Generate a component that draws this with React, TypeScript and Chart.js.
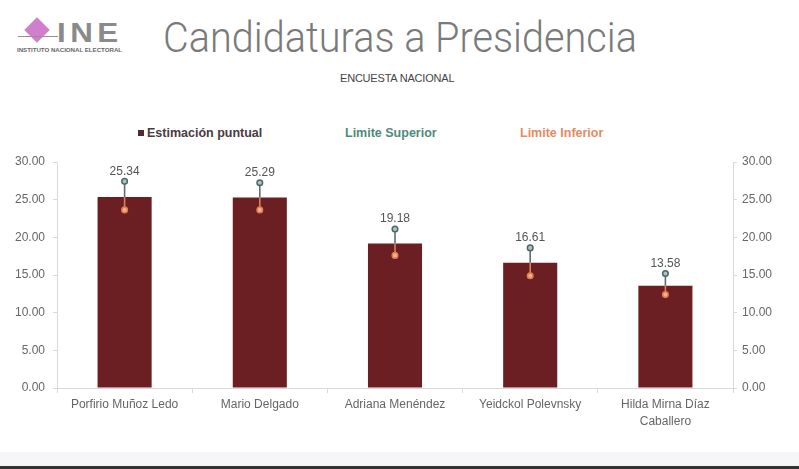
import React, { useEffect, useRef } from "react";
import { Chart, registerables } from "chart.js";

Chart.register(...registerables);

const categories: (string | string[])[] = [
  "Porfirio Muñoz Ledo",
  "Mario Delgado",
  "Adriana Menéndez",
  "Yeidckol Polevnsky",
  ["Hilda Mirna Díaz", "Caballero"],
];
const estimates = [25.34, 25.29, 19.18, 16.61, 13.58];
const upperLimits = [27.43, 27.25, 21.1, 18.6, 15.2];
const lowerLimits = [23.64, 23.64, 17.6, 14.9, 12.4];
const yTicks = [0, 5, 10, 15, 20, 25, 30];
const legendLabels = ["Estimación puntual", "Limite Superior", "Limite Inferior"];

const BAR = "#6b1f22";
const UP = "#4d6666";
const LOW = "#e07a50";

const errorBarPlugin = {
  id: "errorBars",
  afterDatasetDraw(chart: any, args: any) {
    if (args.index !== 0) return;
    const ctx = chart.ctx;
    const y = chart.scales.y;
    const meta = chart.getDatasetMeta(0);
    meta.data.forEach((bar: any, i: number) => {
      const x = bar.x;
      const yv = y.getPixelForValue(estimates[i]);
      const yu = y.getPixelForValue(upperLimits[i]);
      const yl = y.getPixelForValue(lowerLimits[i]);
      ctx.save();
      ctx.lineWidth = 1.6;
      ctx.strokeStyle = "#5e6d6d";
      ctx.beginPath();
      ctx.moveTo(x, yv);
      ctx.lineTo(x, yu);
      ctx.stroke();
      ctx.strokeStyle = "#d8805f";
      ctx.beginPath();
      ctx.moveTo(x, yv);
      ctx.lineTo(x, yl);
      ctx.stroke();
      ctx.restore();
    });
  },
  afterDatasetsDraw(chart: any) {
    const ctx = chart.ctx;
    const y = chart.scales.y;
    const meta = chart.getDatasetMeta(0);
    ctx.save();
    ctx.font = "12px 'Liberation Sans', Arial, sans-serif";
    ctx.fillStyle = "#555555";
    ctx.textAlign = "center";
    ctx.textBaseline = "bottom";
    meta.data.forEach((bar: any, i: number) => {
      const yu = y.getPixelForValue(upperLimits[i]);
      ctx.fillText(estimates[i].toFixed(2), bar.x, yu - 4);
    });
    ctx.restore();
  },
};

export default function App() {
  const ref = useRef<HTMLCanvasElement | null>(null);

  useEffect(() => {
    document.body.style.margin = "0";
    if (!ref.current) return;
    const tickFont = { family: "'Liberation Sans', Arial, sans-serif", size: 12 };
    const chart = new Chart(ref.current, {
      type: "bar",
      data: {
        labels: categories,
        datasets: [
          {
            type: "bar",
            label: legendLabels[0],
            data: estimates,
            backgroundColor: BAR,
            barPercentage: 0.4,
            categoryPercentage: 1,
            order: 2,
            yAxisID: "y",
          },
          {
            type: "line",
            label: legendLabels[1],
            data: upperLimits,
            showLine: false,
            pointRadius: 2.8,
            pointBorderWidth: 1.5,
            pointBorderColor: UP,
            pointBackgroundColor: "#aac4c4",
            order: 0,
            yAxisID: "y",
          },
          {
            type: "line",
            label: legendLabels[2],
            data: lowerLimits,
            showLine: false,
            pointRadius: 2.8,
            pointBorderWidth: 1.5,
            pointBorderColor: LOW,
            pointBackgroundColor: "#f2b08f",
            order: 1,
            yAxisID: "y",
          },
        ],
      },
      options: {
        animation: false,
        responsive: false,
        maintainAspectRatio: false,
        layout: { padding: { top: 20, bottom: 0, left: 0, right: 0 } },
        plugins: {
          legend: { display: false },
          tooltip: { enabled: false },
        },
        scales: {
          x: {
            grid: {
              offset: true,
              drawOnChartArea: false,
              drawTicks: true,
              tickLength: 5,
              color: "#d9d9d9",
            },
            border: { color: "#d9d9d9" },
            ticks: {
              color: "#666666",
              font: { ...tickFont, lineHeight: 1.4 },
              padding: 3,
              maxRotation: 0,
              autoSkip: false,
            },
            afterFit: (s: any) => {
              s.height = 50;
            },
          },
          y: {
            position: "left",
            min: 0,
            max: 30,
            afterBuildTicks: (s: any) => {
              s.ticks = yTicks.map((v) => ({ value: v }));
            },
            grid: {
              drawOnChartArea: false,
              tickLength: 4,
              color: "#d9d9d9",
            },
            border: { color: "#d9d9d9" },
            ticks: {
              color: "#666666",
              font: tickFont,
              padding: 8,
              callback: (v: any) => Number(v).toFixed(2),
            },
            afterFit: (s: any) => {
              s.width = 57;
            },
          },
          y2: {
            position: "right",
            min: 0,
            max: 30,
            afterBuildTicks: (s: any) => {
              s.ticks = yTicks.map((v) => ({ value: v }));
            },
            grid: {
              drawOnChartArea: false,
              tickLength: 4,
              color: "#d9d9d9",
            },
            border: { color: "#d9d9d9" },
            ticks: {
              color: "#666666",
              font: tickFont,
              padding: 5,
              callback: (v: any) => Number(v).toFixed(2),
            },
            afterFit: (s: any) => {
              s.width = 66;
            },
          },
        },
      },
      plugins: [errorBarPlugin],
    } as any);
    return () => chart.destroy();
  }, []);

  const legendBase: React.CSSProperties = {
    position: "absolute",
    top: 126,
    fontFamily: "'Liberation Sans', Arial, sans-serif",
    fontWeight: 700,
    fontSize: 12.5,
    lineHeight: "14px",
    whiteSpace: "nowrap",
  };

  return (
    <div
      style={{
        position: "relative",
        width: 799,
        height: 469,
        background: "#ffffff",
        overflow: "hidden",
        fontFamily: "'Liberation Sans', Arial, sans-serif",
      }}
    >
      {/* Logo */}
      <div
        style={{
          position: "absolute",
          left: 28,
          top: 21,
          width: 18,
          height: 18,
          background: "#cf7fcb",
          transform: "rotate(45deg)",
        }}
      />
      <div
        style={{
          position: "absolute",
          left: 18,
          top: 36,
          width: 40,
          height: 1,
          background: "#9a8a9a",
        }}
      />
      <div
        style={{
          position: "absolute",
          left: 57,
          top: 18,
          fontFamily: "'Liberation Sans', Arial, sans-serif",
          fontWeight: 700,
          fontSize: 28,
          lineHeight: "30px",
          letterSpacing: 4,
          color: "#8a8a8a",
          whiteSpace: "nowrap",
          transformOrigin: "left top",
          transform: "scaleX(1.12)",
        }}
      >
        INE
      </div>
      <div
        style={{
          position: "absolute",
          left: 17,
          top: 47,
          fontFamily: "'Liberation Sans', Arial, sans-serif",
          fontWeight: 700,
          fontSize: 6,
          lineHeight: "7px",
          color: "#666",
          whiteSpace: "nowrap",
          transformOrigin: "left top",
          transform: "scaleX(1.02)",
        }}
      >
        INSTITUTO NACIONAL ELECTORAL
      </div>

      {/* Title */}
      <div
        style={{
          position: "absolute",
          left: 163,
          top: 12,
          fontFamily: "Roboto, 'Liberation Sans', sans-serif",
          fontWeight: 300,
          fontSize: 43,
          lineHeight: "50px",
          color: "#7a7a7a",
          whiteSpace: "nowrap",
          transformOrigin: "left top",
          transform: "scaleX(0.922)",
        }}
      >
        Candidaturas a Presidencia
      </div>
      <div
        style={{
          position: "absolute",
          left: 340,
          top: 72,
          fontFamily: "'Liberation Sans', Arial, sans-serif",
          fontSize: 11,
          lineHeight: "12px",
          letterSpacing: -0.2,
          color: "#444",
          whiteSpace: "nowrap",
        }}
      >
        ENCUESTA NACIONAL
      </div>

      {/* Legend */}
      <div
        style={{
          position: "absolute",
          left: 138,
          top: 130,
          width: 6,
          height: 6,
          background: "#4e2a32",
        }}
      />
      <div style={{ ...legendBase, left: 147, color: "#4a3a42" }}>{legendLabels[0]}</div>
      <div style={{ ...legendBase, left: 345, color: "#4f8a7c" }}>{legendLabels[1]}</div>
      <div style={{ ...legendBase, left: 520, color: "#e58a62" }}>{legendLabels[2]}</div>

      <canvas
        ref={ref}
        width={799}
        height={296}
        style={{ position: "absolute", left: 0, top: 142, width: 799, height: 296 }}
      />

      {/* Bottom band */}
      <div
        style={{
          position: "absolute",
          left: 0,
          top: 452,
          width: 799,
          height: 14,
          background: "#f6f6f9",
        }}
      />
      <div
        style={{
          position: "absolute",
          left: 0,
          top: 466,
          width: 799,
          height: 3,
          background: "#333333",
        }}
      />
    </div>
  );
}
